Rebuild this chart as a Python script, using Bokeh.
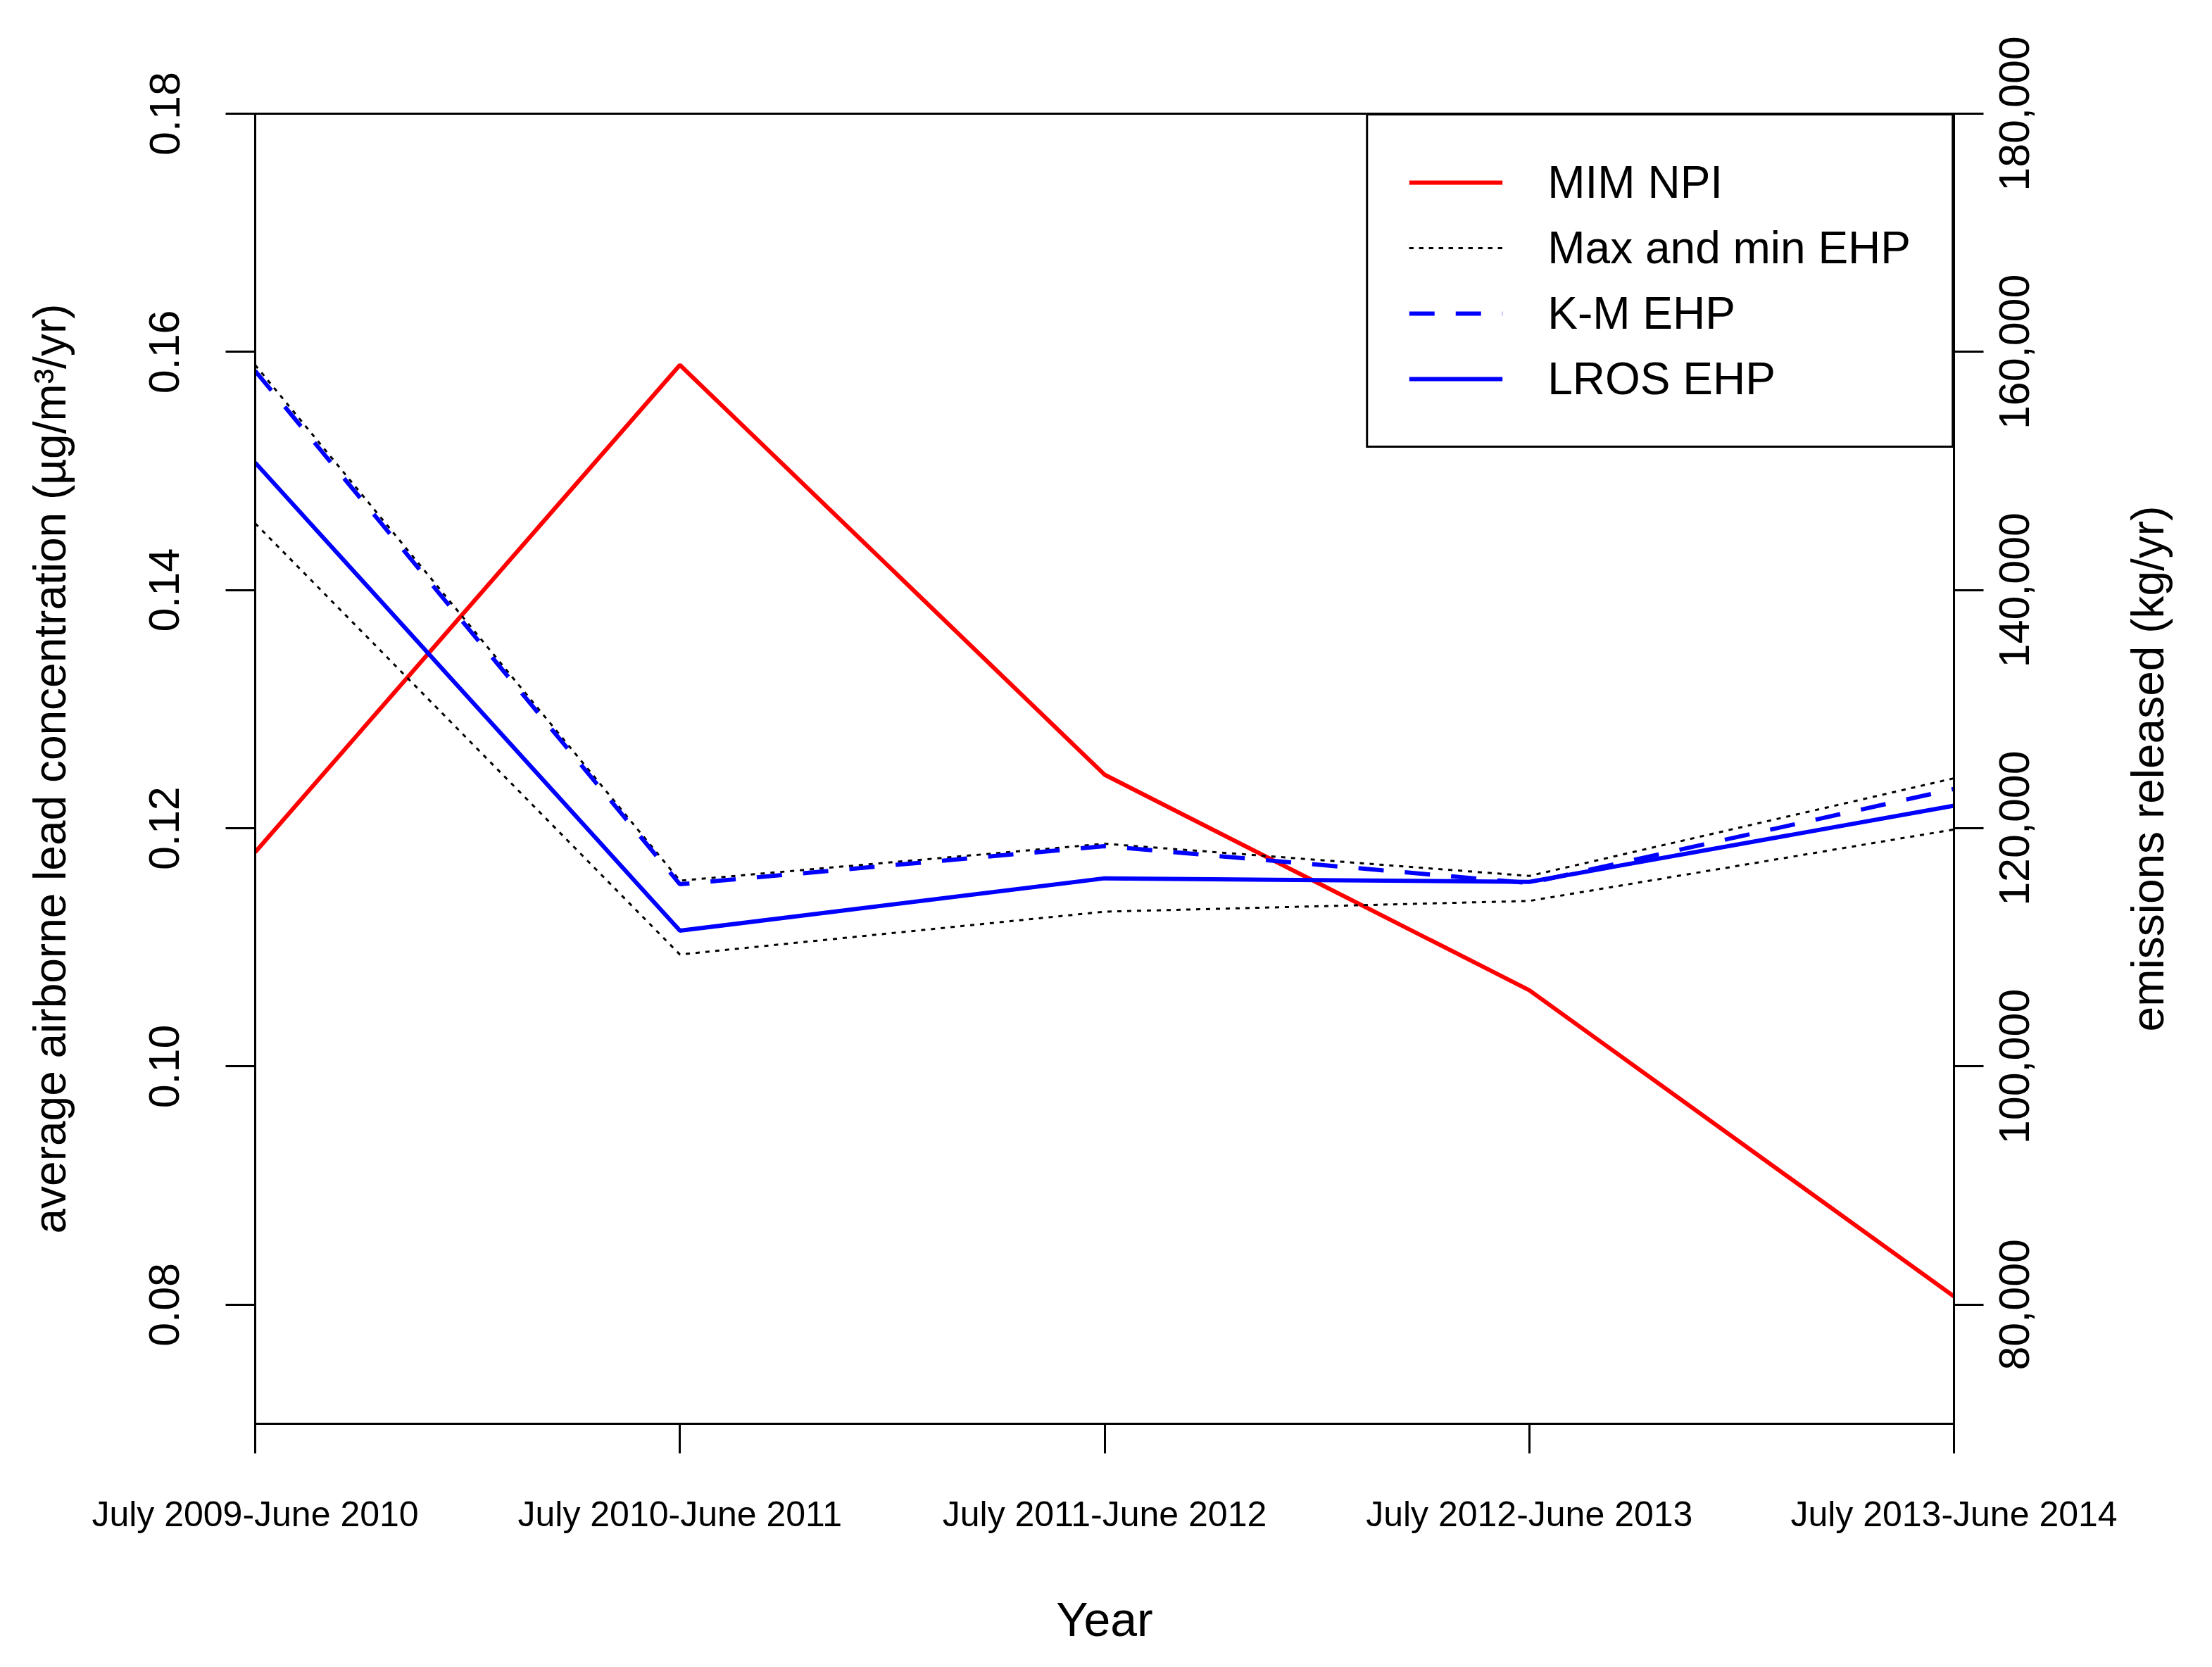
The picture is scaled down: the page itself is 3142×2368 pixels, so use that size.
import math
from bokeh.plotting import figure
from bokeh.models import Range1d, LinearAxis, FixedTicker, NumeralTickFormatter, Legend, LegendItem
from bokeh.embed import file_html
from bokeh.resources import INLINE

# ---- data ----
periods = ["July 2009-June 2010", "July 2010-June 2011", "July 2011-June 2012",
           "July 2012-June 2013", "July 2013-June 2014"]
mim_npi = [118000, 158900, 124500, 106400, 80700]          # kg/yr (right axis)
ehp_max = [0.1589, 0.1156, 0.1187, 0.1160, 0.1242]
km_ehp = [0.1584, 0.1153, 0.1185, 0.1154, 0.1233]
lros_ehp = [0.1507, 0.1114, 0.1158, 0.1155, 0.1219]
ehp_min = [0.1456, 0.1094, 0.1130, 0.1139, 0.1199]
left_ticks = [0.08, 0.10, 0.12, 0.14, 0.16, 0.18]
right_ticks = [80000, 100000, 120000, 140000, 160000, 180000]
right_title = "emissions released (kg/yr)"

x = list(range(1, len(periods) + 1))
FONT = "Liberation Sans"
W, H = 3126, 2352
TOP, BOTTOM = 161, 330
TICK_FS, TITLE_FS = 61, 64

# Arial/Liberation Sans advance widths (em) used to centre the upward-reading right-hand texts
ADV = {"0": .556, "1": .556, "2": .556, "3": .556, "4": .556, "5": .556, "6": .556, "7": .556,
       "8": .556, "9": .556, ",": .278, " ": .278, "e": .556, "m": .833, "i": .222, "s": .5,
       "o": .556, "n": .556, "r": .333, "l": .222, "a": .556, "d": .556, "(": .333, ")": .333,
       "k": .5, "g": .556, "/": .278, "y": .5}


def text_len(s, fs):
    return sum(ADV.get(c, .556) for c in s) * fs


emis_range = Range1d(70000, 180000)
p = figure(width=W, height=H, output_backend="svg", toolbar_location=None,
           x_range=Range1d(1, len(periods)), y_range=Range1d(0.07, 0.18),
           min_border_left=362, min_border_right=350, min_border_top=TOP, min_border_bottom=BOTTOM)
p.grid.visible = False
p.outline_line_color = "black"
p.outline_line_width = 3
p.background_fill_color = "white"
p.border_fill_color = "white"
p.extra_y_ranges = {"emis": emis_range}

r_red = p.line(x, mim_npi, y_range_name="emis", line_color="#ff0000", line_width=6)
r_max = p.line(x, ehp_max, line_color="black", line_width=3, line_dash="6 8")
r_min = p.line(x, ehp_min, line_color="black", line_width=3, line_dash="6 8")
r_km = p.line(x, km_ehp, line_color="#0000ff", line_width=6, line_dash="36 30")
r_lros = p.line(x, lros_ehp, line_color="#0000ff", line_width=6)


def style_axis(ax):
    ax.axis_line_width = 3
    ax.axis_line_color = "black"
    ax.major_tick_line_width = 3
    ax.major_tick_line_color = "black"
    ax.major_tick_out = 42
    ax.major_tick_in = 0
    ax.minor_tick_in = 0
    ax.minor_tick_out = 0
    ax.major_label_text_font = FONT
    ax.axis_label_text_font = FONT
    ax.axis_label_text_font_style = "normal"
    ax.major_label_text_color = "black"
    ax.axis_label_text_color = "black"


# x axis
xa = p.xaxis[0]
style_axis(xa)
xa.ticker = FixedTicker(ticks=x)
xa.major_label_overrides = {i: s for i, s in zip(x, periods)}
xa.major_label_text_font_size = "50px"
xa.major_label_standoff = 58
xa.axis_label = "Year"
xa.axis_label_text_font_size = "68px"
xa.axis_label_standoff = 80

# left axis
ya = p.yaxis[0]
style_axis(ya)
ya.ticker = FixedTicker(ticks=left_ticks)
ya.formatter = NumeralTickFormatter(format="0.00")
ya.major_label_orientation = "vertical"
ya.major_label_text_font_size = f"{TICK_FS}px"
ya.major_label_standoff = 66
ya.axis_label = "average airborne lead concentration (\u00b5g/m\u00b3/yr)"
ya.axis_label_text_font_size = f"{TITLE_FS}px"
ya.axis_label_standoff = 103

# right axis: line and tick marks
ra = LinearAxis(y_range_name="emis")
style_axis(ra)
ra.ticker = FixedTicker(ticks=right_ticks)
ra.major_label_overrides = {t: "" for t in right_ticks}
ra.major_label_text_font_size = "1px"
ra.major_label_standoff = 0
p.add_layout(ra, "right")

frame_h = H - TOP - BOTTOM
per_px = (emis_range.end - emis_range.start) / frame_h


def upward_label_axis(texts_at, fs, standoff):
    """An axis that only carries texts reading bottom-to-top, centred on the given values."""
    pos = {v - text_len(s, fs) / 2 * per_px: s for v, s in texts_at}
    ax = LinearAxis(y_range_name="emis")
    style_axis(ax)
    ax.ticker = FixedTicker(ticks=list(pos.keys()))
    ax.major_label_overrides = pos
    ax.axis_line_color = None
    ax.major_tick_out = 0
    ax.major_tick_line_color = None
    ax.major_label_orientation = math.pi / 2
    ax.major_label_text_font_size = f"{fs}px"
    ax.major_label_standoff = standoff
    return ax


# right axis tick labels
p.add_layout(upward_label_axis([(t, "{:,}".format(t)) for t in right_ticks], TICK_FS, 44), "right")
# right axis title, centred on the axis
mid = (emis_range.start + emis_range.end) / 2
p.add_layout(upward_label_axis([(mid, right_title)], TITLE_FS, 145), "right")

legend = Legend(items=[
    LegendItem(label="MIM NPI", renderers=[r_red]),
    LegendItem(label="Max and min EHP", renderers=[r_max, r_min]),
    LegendItem(label="K-M EHP", renderers=[r_km]),
    LegendItem(label="LROS EHP", renderers=[r_lros]),
], location="top_right")
legend.margin = 0
legend.padding = 58
legend.spacing = 19
legend.glyph_width = 133
legend.glyph_height = 60
legend.label_standoff = 64
legend.label_text_font = FONT
legend.label_text_font_size = "64px"
legend.label_text_color = "black"
legend.border_line_color = "black"
legend.border_line_alpha = 1.0
legend.border_line_width = 3
legend.background_fill_alpha = 1.0
legend.background_fill_color = "white"
p.add_layout(legend)

open("out.html", "w").write(file_html(p, INLINE))
